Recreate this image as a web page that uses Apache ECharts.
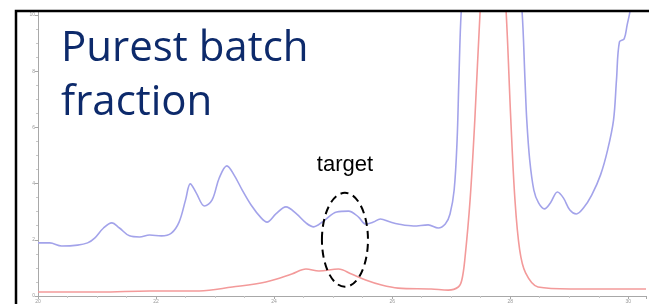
<!DOCTYPE html>
<html>
<head>
<meta charset="utf-8">
<script src="https://cdn.jsdelivr.net/npm/echarts@6/dist/echarts.min.js"></script>
<style>
    html, body { margin: 0; padding: 0; background: #fff; }
    #main { width: 649px; height: 304px; }
</style>
</head>
<body>
<div id="main"></div>
<script>
// 保留时间 (min)
let blueX = [20.00, 20.20, 20.40, 20.67, 20.84, 20.96, 21.11, 21.25, 21.38, 21.55, 21.72, 21.89, 22.09, 22.26, 22.39, 22.50, 22.58, 22.68, 22.82, 22.95,
    23.07, 23.20, 23.32, 23.46, 23.61, 23.78, 23.88, 24.03, 24.20, 24.38, 24.54, 24.67, 24.84, 25.06, 25.26, 25.43, 25.55, 25.68, 25.80, 25.97,
    26.10, 26.36, 26.61, 26.78, 26.90, 26.98, 27.05, 27.10, 27.13, 27.17, 27.30, 27.67, 28.05, 28.20, 28.25, 28.28, 28.33, 28.40, 28.48, 28.58,
    28.68, 28.80, 28.90, 29.01, 29.12, 29.24, 29.38, 29.53, 29.65, 29.75, 29.80, 29.85, 29.93, 29.98, 30.03, 30.15, 30.30];
let blueY = [1.89, 1.89, 1.78, 1.81, 1.89, 2.06, 2.42, 2.60, 2.42, 2.14, 2.10, 2.17, 2.14, 2.24, 2.63, 3.42, 3.99, 3.67, 3.20, 3.42,
    4.20, 4.63, 4.31, 3.77, 3.24, 2.78, 2.63, 2.92, 3.17, 2.92, 2.60, 2.46, 2.67, 2.99, 3.02, 2.81, 2.56, 2.63, 2.74, 2.63,
    2.56, 2.49, 2.53, 2.42, 2.56, 2.92, 3.77, 5.55, 7.69, 10.14, 14.0, 30.0, 14.0, 10.14, 7.69, 6.26, 4.84, 3.77, 3.31, 3.10,
    3.31, 3.70, 3.49, 3.06, 2.92, 3.13, 3.59, 4.31, 5.20, 6.26, 7.69, 9.04, 9.15, 9.64, 10.14, 12.0, 14.0];

let redX = [20.00, 21.05, 21.89, 22.73, 23.29, 23.86, 24.30, 24.54, 24.76, 25.09, 25.31, 25.55, 25.82, 26.10, 26.66, 26.95, 27.12, 27.18,
    27.23, 27.32, 27.40, 27.49, 27.71, 27.93, 28.01, 28.08, 28.16, 28.26, 28.47, 29.02, 30.30];
let redY = [0.14, 0.14, 0.18, 0.18, 0.32, 0.50, 0.78, 0.96, 0.89, 0.96, 0.78, 0.57, 0.39, 0.28, 0.25, 0.21, 0.32, 0.57,
    1.28, 3.42, 6.26, 10.14, 18.0, 10.14, 6.26, 3.42, 1.64, 0.82, 0.32, 0.25, 0.25];

let xTicks = [20, 22, 24, 26, 28, 30];
let yTicks = [0, 2, 4, 6, 8, 10];

// 标注位置 (数据坐标)
let targetCenter = [25.2, 2.0];

function zip(xs, ys) {
    return xs.map(function (x, i) { return [x, ys[i]]; });
}

(function () {
    let myChart = echarts.init(document.getElementById('main'));
    let axisGrey = '#a8a8a8';
    let option = {
        backgroundColor: '#fff',
        animation: false,
        grid: {
            left: 38,
            right: 0,
            top: 11,
            bottom: 8
        },
        xAxis: {
            type: 'value',
            min: 20,
            max: 30.3,
            interval: 2,
            splitLine: { show: false },
            axisLine: { lineStyle: { color: axisGrey, width: 1 } },
            axisTick: { length: 3, lineStyle: { color: axisGrey } },
            minorTick: { show: true, splitNumber: 4, length: 2, lineStyle: { color: '#c8c8c8' } },
            axisLabel: {
                color: '#999',
                fontSize: 5,
                margin: 3,
                formatter: function (v) { return xTicks.indexOf(v) >= 0 ? v : ''; }
            }
        },
        yAxis: {
            type: 'value',
            min: 0,
            max: 10.14,
            interval: 2,
            splitLine: { show: false },
            axisLine: { show: true, lineStyle: { color: axisGrey, width: 1 } },
            axisTick: { show: true, length: 3, lineStyle: { color: axisGrey } },
            minorTick: { show: true, splitNumber: 4, length: 2, lineStyle: { color: '#c8c8c8' } },
            axisLabel: {
                color: '#999',
                fontSize: 5,
                margin: 3,
                formatter: function (v) { return yTicks.indexOf(v) >= 0 ? v : ''; }
            }
        },
        series: [
            {
                name: 'UV',
                type: 'line',
                data: zip(blueX, blueY),
                smooth: 0.35,
                symbol: 'none',
                clip: true,
                lineStyle: { color: '#a3a3ea', width: 1.6 }
            },
            {
                name: 'product',
                type: 'line',
                data: zip(redX, redY),
                smooth: 0.35,
                symbol: 'none',
                clip: true,
                lineStyle: { color: '#f39a9a', width: 1.6 }
            }
        ]
    };
    myChart.setOption(option);

    // 注释: 外框, 标题文字, 虚线椭圆
    let c = myChart.convertToPixel({ gridIndex: 0 }, targetCenter);
    let e = myChart.convertToPixel({ gridIndex: 0 }, [targetCenter[0] + 0.39, targetCenter[1] + 1.67]);
    myChart.setOption({
        graphic: [
            {
                type: 'rect',
                shape: { x: 16, y: 11, width: 700, height: 400 },
                style: { fill: 'none', stroke: '#000', lineWidth: 2.5 },
                z: 10
            },
            {
                type: 'text',
                left: 61,
                top: 22,
                style: {
                    text: 'Purest batch\nfraction',
                    fill: '#0d2a6b',
                    font: '42px "Open Sans"',
                    lineHeight: 54
                },
                z: 10
            },
            {
                type: 'text',
                x: c[0],
                y: 176,
                style: {
                    text: 'target',
                    fill: '#000',
                    font: '22px "Liberation Sans"',
                    align: 'center',
                    verticalAlign: 'bottom'
                },
                z: 10
            },
            {
                type: 'ellipse',
                shape: { cx: c[0], cy: c[1], rx: e[0] - c[0], ry: c[1] - e[1] },
                style: { fill: 'none', stroke: '#000', lineWidth: 2, lineDash: [8, 5] },
                z: 10
            }
        ]
    });

    window.addEventListener('resize', function () {
        myChart.resize();
    });
})();
</script>
</body>
</html>
